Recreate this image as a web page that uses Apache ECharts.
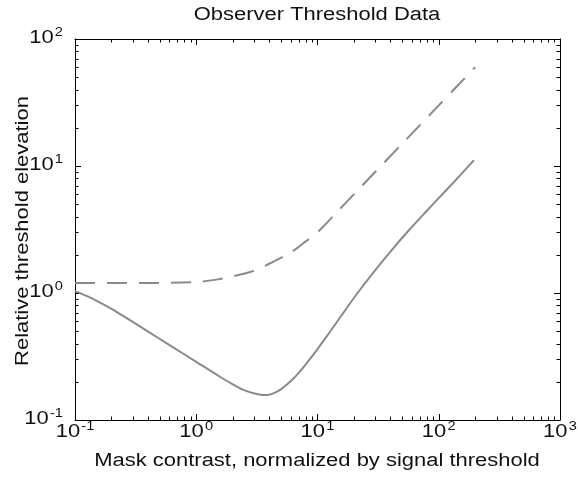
<!DOCTYPE html>
<html>
<head>
<meta charset="utf-8">
<script src="https://cdn.jsdelivr.net/npm/echarts@6/dist/echarts.min.js"></script>
<style>
html,body{margin:0;padding:0;background:#fff;}
#c{width:578px;height:488px;}
</style>
</head>
<body>
<div id="c"></div>
<script>
// ---- data ----
const titleText = 'Observer Threshold Data';
const xName = 'Mask contrast, normalized by signal threshold';
const yName = 'Relative threshold elevation';

const X_MIN = 0.1, X_MAX = 1000;
const Y_MIN = 0.1, Y_MAX = 100;

// tick label values (decades)
const xTickVals = [0.1, 1, 10, 100, 1000];
const yTickVals = [0.1, 1, 10, 100];

// solid curve (observer threshold)
const solidX = [0.1, 0.126, 0.158, 0.2, 0.251, 0.398, 0.631, 1.0, 1.58, 2.0, 2.51, 3.16, 3.55, 3.98, 4.47, 5.01, 5.62, 6.31, 7.08, 7.94, 8.91, 10, 12.6, 15.8, 21.4, 28.2, 39.8, 56.2, 79.4, 112, 158, 195];
const solidY = [1.035, 0.944, 0.847, 0.75, 0.658, 0.499, 0.378, 0.287, 0.218, 0.191, 0.171, 0.160, 0.157, 0.158, 0.164, 0.175, 0.191, 0.211, 0.238, 0.272, 0.313, 0.362, 0.491, 0.668, 1.0, 1.41, 2.11, 3.09, 4.42, 6.27, 8.91, 11.1];

// dashed curve
const dashX = [0.1, 0.2, 0.5, 1.0, 1.5, 2, 3, 4, 6, 8, 10, 15, 20, 30, 50, 70, 100, 150, 200];
const dashY = [1.2, 1.2, 1.2, 1.22, 1.28, 1.35, 1.5, 1.7, 2.08, 2.55, 3.0, 4.5, 6.0, 9.0, 15, 21, 30, 45, 60];

// minor tick multipliers and decades
const minorMult = [2, 3, 4, 5, 6, 7, 8, 9];
const xDecades = [0.1, 1, 10, 100];
const yDecades = [0.1, 1, 10];

// ---- build ----
const zip = (a, b) => a.map((v, i) => [v, b[i]]);
const xMinor = [];
xDecades.forEach(d => minorMult.forEach(m => xMinor.push([+(m * d).toPrecision(3), Y_MIN])));
const yMinor = [];
yDecades.forEach(d => minorMult.forEach(m => yMinor.push([X_MIN, +(m * d).toPrecision(3)])));

const FONT = '"Liberation Sans", Arial, Helvetica, sans-serif';
const TXT = '#111';
const SX = 1.22;           // reference glyphs are wider than Liberation Sans
const lineColor = '#8a8a8a';
const MINOR_LEN = 3.5;

const labelRich = {
  b: { fontSize: 18, fontFamily: FONT, fill: TXT, lineHeight: 20, verticalAlign: 'bottom' },
  s: { fontSize: 12, fontFamily: FONT, fill: TXT, lineHeight: 12, verticalAlign: 'top', padding: [0, 0, 0, 1] }
};
function expText(v) {
  return '{b|10}{s|' + Math.round(Math.log10(v)) + '}';
}

function baseAxis(extra) {
  return Object.assign({
    type: 'log', logBase: 10,
    axisLine: { show: true, onZero: false, lineStyle: { color: '#000', width: 1 } },
    axisTick: { show: true, inside: true, length: 6, lineStyle: { color: '#000', width: 1 } },
    axisLabel: { show: false },
    splitLine: { show: false },
    minorTick: { show: false },
  }, extra);
}

const chart = echarts.init(document.getElementById('c'), null, { renderer: 'canvas' });

const option = {
  animation: false,
  backgroundColor: '#fff',
  grid: { left: 75, right: 18, top: 39, bottom: 68, containLabel: false },
  graphic: [
    {
      type: 'text', x: 317, y: 15, scaleX: SX, silent: true,
      style: { text: titleText, fontSize: 18, fontFamily: FONT, fill: TXT, align: 'center', verticalAlign: 'middle' }
    },
    {
      type: 'text', x: 317, y: 461, scaleX: SX, silent: true,
      style: { text: xName, fontSize: 18, fontFamily: FONT, fill: TXT, align: 'center', verticalAlign: 'middle' }
    },
    {
      type: 'text', x: 23, y: 231, rotation: Math.PI / 2, scaleX: SX, silent: true,
      style: { text: yName, fontSize: 18, fontFamily: FONT, fill: TXT, align: 'center', verticalAlign: 'middle' }
    }
  ],
  xAxis: [
    baseAxis({ position: 'bottom', min: X_MIN, max: X_MAX }),
    baseAxis({ position: 'top', min: X_MIN, max: X_MAX })
  ],
  yAxis: [
    baseAxis({ position: 'left', min: Y_MIN, max: Y_MAX }),
    baseAxis({ position: 'right', min: Y_MIN, max: Y_MAX })
  ],
  series: [
    {
      type: 'line', name: 'dashed', data: zip(dashX, dashY), smooth: 0.3,
      showSymbol: false, symbol: 'none', clip: true,
      lineStyle: { color: lineColor, width: 2, type: [20, 12] }
    },
    {
      type: 'line', name: 'solid', data: zip(solidX, solidY), smooth: 0.3,
      showSymbol: false, symbol: 'none', clip: true,
      lineStyle: { color: lineColor, width: 2, type: 'solid' }
    },
    {
      type: 'custom', name: 'xMinorTicks', data: xMinor, silent: true, clip: false,
      encode: { x: 0, y: 1 },
      renderItem: function (params, api) {
        const v = api.value(0);
        const pb = api.coord([v, Y_MIN]);
        const pt = api.coord([v, Y_MAX]);
        const x = Math.round(pb[0]) + 0.5;
        const st = { stroke: '#000', lineWidth: 1 };
        return {
          type: 'group', children: [
            { type: 'line', shape: { x1: x, y1: pb[1], x2: x, y2: pb[1] - MINOR_LEN }, style: st },
            { type: 'line', shape: { x1: x, y1: pt[1], x2: x, y2: pt[1] + MINOR_LEN }, style: st }
          ]
        };
      }
    },
    {
      type: 'custom', name: 'yMinorTicks', data: yMinor, silent: true, clip: false,
      encode: { x: 0, y: 1 },
      renderItem: function (params, api) {
        const v = api.value(1);
        const pl = api.coord([X_MIN, v]);
        const pr = api.coord([X_MAX, v]);
        const y = Math.round(pl[1]) + 0.5;
        const st = { stroke: '#000', lineWidth: 1 };
        return {
          type: 'group', children: [
            { type: 'line', shape: { x1: pl[0], y1: y, x2: pl[0] + MINOR_LEN, y2: y }, style: st },
            { type: 'line', shape: { x1: pr[0], y1: y, x2: pr[0] - MINOR_LEN, y2: y }, style: st }
          ]
        };
      }
    },
    {
      type: 'custom', name: 'xTickLabels', data: xTickVals.map(v => [v, Y_MIN]), silent: true, clip: false,
      encode: { x: 0, y: 1 },
      renderItem: function (params, api) {
        const v = api.value(0);
        const p = api.coord([v, Y_MIN]);
        return {
          type: 'text', x: p[0], y: p[1] + 1, scaleX: SX,
          style: { text: expText(v), rich: labelRich, align: 'center', verticalAlign: 'top', fontFamily: FONT, fontSize: 18, fill: TXT }
        };
      }
    },
    {
      type: 'custom', name: 'yTickLabels', data: yTickVals.map(v => [X_MIN, v]), silent: true, clip: false,
      encode: { x: 0, y: 1 },
      renderItem: function (params, api) {
        const v = api.value(1);
        const p = api.coord([X_MIN, v]);
        return {
          type: 'text', x: p[0] - 12, y: p[1] - 2, scaleX: SX,
          style: { text: expText(v), rich: labelRich, align: 'right', verticalAlign: 'middle', fontFamily: FONT, fontSize: 18, fill: TXT }
        };
      }
    }
  ]
};
chart.setOption(option);
</script>
</body>
</html>
